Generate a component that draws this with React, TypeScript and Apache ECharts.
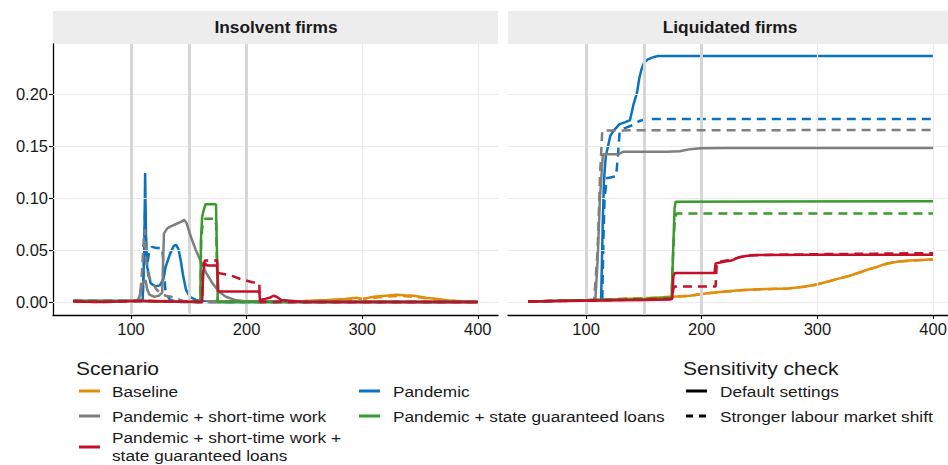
import React, { useEffect, useRef } from "react";
import * as echarts from "echarts";

// ---------- data ----------
const panelTitles = ["Insolvent firms", "Liquidated firms"];
const scenarioNames = [
  "Baseline",
  "Pandemic",
  "Pandemic + short-time work",
  "Pandemic + state guaranteed loans",
  "Pandemic + short-time work + state guaranteed loans",
];
const scenarioColors = ["#E08E0B", "#0A72BE", "#7F7F7F", "#3A9A2E", "#C40F2A"];
const sensitivityNames = ["Default settings", "Stronger labour market shift"];
const xTicks = [100, 200, 300, 400];
const yTicks = [0, 0.05, 0.1, 0.15, 0.2];
const eventLines = [100, 150, 200];

// Insolvent firms
const insBaseDef = [[50,0.001],[70,0.0003],[90,0.0007],[110,0.001],[150,0.0008],[200,0.0005],[250,0.001],[270,0.002],[285,0.003],[295,0.004],[300,0.003],[310,0.005],[320,0.006],[330,0.007],[337,0.0065],[345,0.006],[355,0.004],[365,0.003],[375,0.0015],[390,0.0005],[400,0.0003]];
const insBaseStr = [[50,0.001],[70,0.0003],[90,0.0007],[110,0.001],[150,0.0008],[200,0.0005],[250,0.0008],[270,0.0015],[290,0.0025],[305,0.0035],[320,0.005],[332,0.006],[345,0.005],[360,0.003],[375,0.0012],[390,0.0004],[400,0.0002]];
const insPanDef = [[50,0.001],[100,0.001],[110,0.001],[111.5,0.05],[112.2,0.124],[113,0.06],[114,0.034],[117,0.018],[121,0.015],[125,0.016],[128,0.022],[130,0.034],[134,0.047],[137,0.054],[139,0.055],[141,0.051],[143,0.04],[145,0.026],[147.5,0.012],[151,0.005],[156,0.002],[165,0],[400,0]];
const insPanStr = [[50,0.001],[110,0.001],[111.5,0.05],[112.2,0.092],[113,0.06],[114,0.036],[116,0.05],[118,0.053],[122,0.052],[127,0.052],[128.5,0.03],[130,0.008],[134,0.002],[140,0],[400,0]];
const insStwDef = [[50,0.001],[105,0.001],[107,0.004],[110,0.018],[112.5,0.021],[114,0.012],[116,0.007],[120,0.005],[124,0.006],[127,0.009],[128.5,0.066],[131.5,0.071],[135,0.073],[139,0.075],[143,0.077],[146,0.079],[148,0.076],[150,0.069],[152,0.062],[156,0.05],[160,0.04],[165,0.028],[170.5,0.018],[176,0.01],[182,0.005],[190,0.002],[200,0.0005],[400,0]];
const insStwStr = [[50,0.001],[107,0.001],[109,0.02],[111,0.06],[112,0.07],[113,0.04],[115,0.025],[118,0.02],[122,0.012],[126,0.008],[130,0.006],[135,0.005],[140,0.003],[145,0.001],[150,0],[400,0]];
const insLoanDef = [[50,0.001],[110,0.001],[120,0.0005],[160,0],[160.5,0.06],[161.5,0.082],[163.3,0.09],[164.5,0.094],[173.5,0.094],[174.5,0.04],[175,0],[400,0]];
const insLoanStr = [[50,0.001],[110,0.001],[160,0],[160.7,0.06],[162,0.075],[164,0.08],[173.5,0.08],[174.5,0.03],[175,0],[400,0]];
const insBothDef = [[50,0.0008],[60,0.0002],[75,0],[90,0.0005],[100,0.001],[110,0.001],[130,0.0005],[161.5,0],[162.5,0.03],[164,0.037],[166,0.035],[174.5,0.035],[175.5,0.01],[211,0.01],[211.5,0.002],[216,0.003],[220,0.004],[223,0.006],[226,0.005],[230,0.002],[240,0.001],[250,0],[400,0]];
const insBothStr = [[50,0.0008],[60,0.0002],[75,0],[90,0.0005],[110,0.001],[161.5,0],[162.5,0.035],[164,0.04],[174.5,0.04],[175,0.028],[185,0.026],[195,0.022],[205,0.019],[211,0.018],[211.5,0],[400,0]];

// Liquidated firms
const liqBaseDef = [[50,0.0005],[80,0.001],[100,0.0015],[110,0.002],[130,0.003],[150,0.0035],[175,0.005],[190,0.006],[205,0.0085],[220,0.01],[235,0.0115],[255,0.0125],[275,0.013],[290,0.015],[300,0.017],[310,0.02],[320,0.023],[330,0.026],[343,0.031],[352,0.034],[360,0.037],[370,0.039],[380,0.0398],[390,0.0405],[400,0.041]];
const liqBaseStr = [[50,0.0005],[80,0.001],[100,0.0015],[110,0.002],[130,0.003],[150,0.0035],[175,0.005],[190,0.006],[205,0.0083],[220,0.0098],[235,0.0113],[255,0.0123],[275,0.013],[290,0.0148],[300,0.0168],[310,0.0198],[320,0.0228],[330,0.0258],[343,0.0308],[352,0.0338],[360,0.0368],[370,0.0388],[380,0.0396],[390,0.0403],[400,0.0408]];
const liqPanDef = [[50,0.0005],[100,0.0015],[110,0.002],[113,0.002],[114.5,0.08],[115.5,0.117],[117,0.14],[120,0.155],[121,0.16],[124,0.165],[129,0.171],[134,0.173],[138,0.175],[141,0.19],[144,0.201],[146,0.215],[148,0.224],[150,0.23],[153,0.233],[157,0.235],[162,0.2365],[400,0.2365]];
const liqPanStr = [[50,0.0005],[110,0.002],[114,0.002],[115,0.06],[116,0.1],[118,0.119],[122,0.12],[126,0.121],[127.5,0.14],[129,0.163],[133,0.167],[140,0.17],[146,0.174],[152,0.176],[400,0.176]];
const liqStwDef = [[50,0.0005],[108,0.002],[110,0.04],[112,0.1],[114.5,0.142],[128,0.142],[132,0.1445],[150,0.1445],[170,0.1445],[181,0.145],[190,0.147],[199,0.1478],[220,0.148],[400,0.148]];
const liqStwStr = [[50,0.0005],[107,0.002],[110,0.05],[112,0.12],[114,0.165],[400,0.1655]];
const liqLoanDef = [[50,0.0005],[110,0.002],[150,0.003],[174,0.004],[175,0.04],[176.5,0.09],[177.5,0.0965],[400,0.097]];
const liqLoanStr = [[50,0.0005],[110,0.002],[174,0.004],[175,0.04],[176.5,0.075],[178,0.085],[400,0.085]];
const liqBothDef = [[50,0.0005],[110,0.0015],[150,0.002],[172,0.0025],[174.5,0.003],[175.5,0.025],[177,0.028],[211,0.028],[212,0.037],[220,0.039],[226,0.04],[232,0.043],[240,0.0445],[250,0.0452],[300,0.0455],[400,0.0455]];
const liqBothStr = [[50,0.0005],[110,0.0015],[174.5,0.003],[175.5,0.013],[177,0.015],[212,0.015],[213,0.038],[226,0.041],[240,0.045],[300,0.046],[350,0.0465],[400,0.047]];

const panelData = [
  [[insBaseDef, insBaseStr], [insPanDef, insPanStr], [insStwDef, insStwStr], [insLoanDef, insLoanStr], [insBothDef, insBothStr]],
  [[liqBaseDef, liqBaseStr], [liqPanDef, liqPanStr], [liqStwDef, liqStwStr], [liqLoanDef, liqLoanStr], [liqBothDef, liqBothStr]],
];

// ---------- layout ----------
const FONT = "Liberation Sans, Arial, Helvetica, sans-serif";
const X_MIN = 32.5;
const X_MAX = 417.5;
const Y_MIN = -0.0125;
const Y_MAX = 0.2481;
const PANEL_TOP = 44;
const PANEL_H = 271;
const PANELS = [
  { left: 53, width: 445 },
  { left: 508, width: 445.3 },
];
const DASH = [9, 6];
const TEXT_SX = 1.15;

function buildOption() {
  const grid = PANELS.map((p) => ({ left: p.left, top: PANEL_TOP, width: p.width, height: PANEL_H, containLabel: false }));
  const xAxis = PANELS.map((_, i) => ({
    type: "value",
    gridIndex: i,
    min: X_MIN,
    max: X_MAX,
    axisLine: { show: true, onZero: false, lineStyle: { color: "#000", width: 1.3 } },
    axisTick: { show: true, length: 4, customValues: xTicks, lineStyle: { color: "#000", width: 1.1 } },
    axisLabel: { show: true, customValues: xTicks, color: "#1a1a1a", fontSize: 16.5, fontFamily: FONT, margin: 5 },
    splitLine: { show: false },
  }));
  const yAxis = PANELS.map((_, i) => ({
    type: "value",
    gridIndex: i,
    min: Y_MIN,
    max: Y_MAX,
    axisLine: { show: i === 0, onZero: false, lineStyle: { color: "#000", width: 1.3 } },
    axisTick: { show: i === 0, length: 4, customValues: yTicks, lineStyle: { color: "#000", width: 1.1 } },
    axisLabel: {
      show: i === 0,
      customValues: yTicks,
      color: "#1a1a1a",
      fontSize: 16.5,
      fontFamily: FONT,
      margin: 5,
      formatter: (v: number) => v.toFixed(2),
    },
    splitLine: { show: false },
  }));

  const series: any[] = [];
  PANELS.forEach((_, pi) => {
    series.push({
      type: "line",
      xAxisIndex: pi,
      yAxisIndex: pi,
      data: [],
      silent: true,
      z: 1,
      markLine: {
        silent: true,
        symbol: "none",
        label: { show: false },
        lineStyle: { color: "#EBEBEB", width: 1.2, type: "solid" },
        data: [...yTicks.map((v) => ({ yAxis: v })), ...xTicks.map((v) => ({ xAxis: v }))],
      },
    });
    series.push({
      type: "line",
      xAxisIndex: pi,
      yAxisIndex: pi,
      data: [],
      silent: true,
      z: 2,
      markLine: {
        silent: true,
        symbol: "none",
        label: { show: false },
        lineStyle: { color: "#D6D6D6", width: 3, type: "solid" },
        data: eventLines.map((v) => ({ xAxis: v })),
      },
    });
    panelData[pi].forEach((pair, si) => {
      pair.forEach((d, k) => {
        series.push({
          type: "line",
          name: scenarioNames[si] + " - " + sensitivityNames[k],
          xAxisIndex: pi,
          yAxisIndex: pi,
          data: d,
          showSymbol: false,
          symbol: "none",
          z: 3 + si,
          lineStyle: { color: scenarioColors[si], width: 2.5, type: k === 0 ? "solid" : DASH, cap: "butt" },
          itemStyle: { color: scenarioColors[si] },
        });
      });
    });
  });

  const graphic: any[] = [];
  PANELS.forEach((p, i) => {
    graphic.push({ type: "rect", shape: { x: p.left, y: 11, width: p.width, height: 33 }, style: { fill: "#EDEDED" }, silent: true });
    graphic.push({
      type: "text",
      x: i === 0 ? 276 : 730,
      y: 28,
      scaleX: 1.05,
      style: { text: panelTitles[i], fontSize: 16.5, fontWeight: "bold", fontFamily: FONT, fill: "#1a1a1a", textAlign: "center", textVerticalAlign: "middle" },
      silent: true,
    });
  });

  const txt = (text: string, x: number, y: number, size = 15, sx = TEXT_SX) => ({
    type: "text",
    x,
    y,
    scaleX: sx,
    style: { text, fontSize: size, fontFamily: FONT, fill: "#1a1a1a", textAlign: "left", textVerticalAlign: "middle" },
    silent: true,
  });
  const key = (x: number, y: number, color: string, dashed: boolean) => ({
    type: "line",
    shape: { x1: x, y1: y, x2: x + 21, y2: y },
    style: { stroke: color, lineWidth: 3, lineDash: dashed ? [7, 6] : null },
    silent: true,
  });

  graphic.push(txt("Scenario", 76, 369, 18, 1.17));
  const legendPos = [
    { kx: 79, tx: 112, y: 391 },
    { kx: 359, tx: 393, y: 391 },
    { kx: 79, tx: 112, y: 416 },
    { kx: 359, tx: 393, y: 416 },
    { kx: 79, tx: 112, y: 447 },
  ];
  scenarioNames.forEach((name, i) => {
    const p = legendPos[i];
    graphic.push(key(p.kx, p.y, scenarioColors[i], false));
    if (i === 4) {
      graphic.push(txt("Pandemic + short-time work +", p.tx, 437));
      graphic.push(txt("state guaranteed loans", p.tx, 455));
    } else {
      graphic.push(txt(name, p.tx, p.y));
    }
  });

  graphic.push(txt("Sensitivity check", 683, 369, 18, 1.17));
  sensitivityNames.forEach((name, k) => {
    const y = k === 0 ? 391 : 416;
    graphic.push(key(686, y, "#000", k === 1));
    graphic.push(txt(name, 720, y));
  });

  return {
    animation: false,
    backgroundColor: "#fff",
    textStyle: { fontFamily: FONT },
    grid,
    xAxis,
    yAxis,
    series,
    graphic,
  };
}

export default function App() {
  const ref = useRef<HTMLDivElement>(null);
  useEffect(() => {
    if (!ref.current) return;
    const chart = echarts.init(ref.current, null, { renderer: "svg" });
    chart.setOption(buildOption() as any);
    return () => chart.dispose();
  }, []);
  return (
    <div style={{ position: "fixed", left: 0, top: 0, width: 948, height: 465, overflow: "hidden", background: "#fff" }}>
      <div ref={ref} style={{ width: 960, height: 465, background: "#fff" }} />
    </div>
  );
}
